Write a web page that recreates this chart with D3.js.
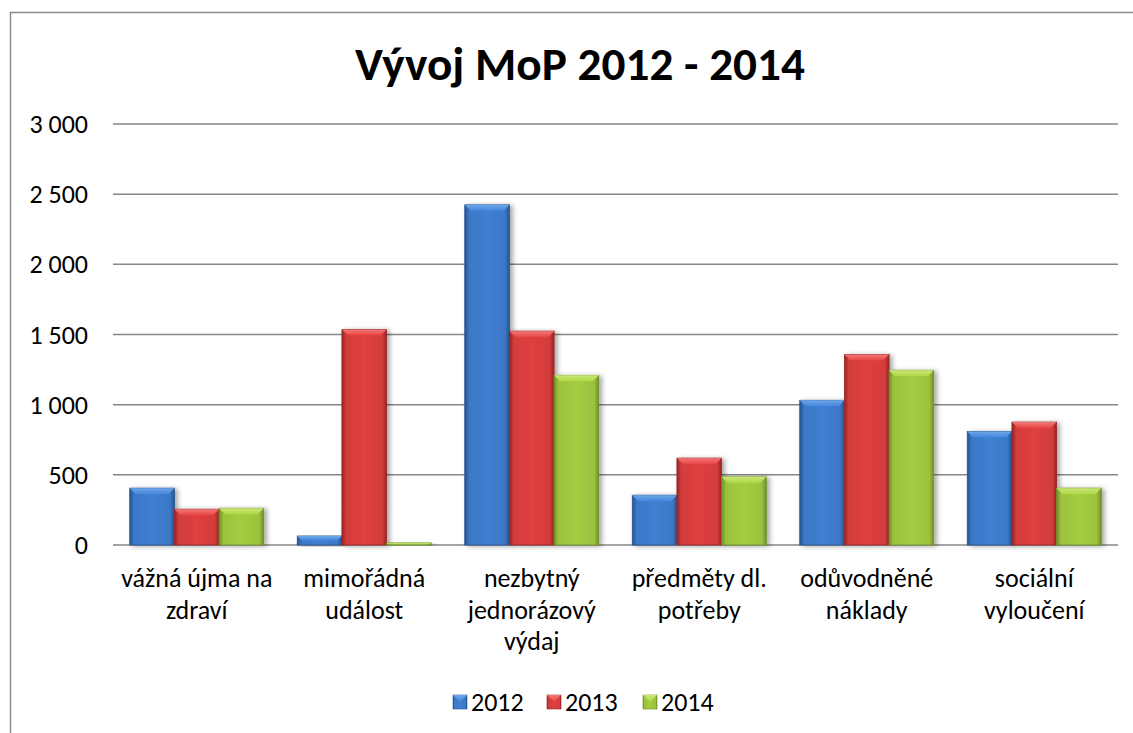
<!DOCTYPE html>
<html><head><meta charset="utf-8">
<script src="https://cdn.jsdelivr.net/npm/d3@7"></script>
<style>
html,body{margin:0;padding:0;background:#fff;}
svg{display:block;font-family:Carlito,Calibri,Lato,"Open Sans",sans-serif;}
</style></head>
<body>
<svg id="c" width="1133" height="733"></svg>
<script>
const title = "Vývoj MoP 2012 - 2014";
const categories = [
  ["vážná újma na", "zdraví"],
  ["mimořádná", "událost"],
  ["nezbytný", "jednorázový", "výdaj"],
  ["předměty dl.", "potřeby"],
  ["odůvodněné", "náklady"],
  ["sociální", "vyloučení"]
];
const seriesNames = ["2012", "2013", "2014"];
const values2012 = [405, 64, 2424, 355, 1031, 809];
const values2013 = [255, 1536, 1524, 619, 1357, 876];
const values2014 = [262, 15, 1209, 486, 1245, 405];
const yTicks = [0, 500, 1000, 1500, 2000, 2500, 3000];
const colors = [
  {base:"#3c78c6", light:"#6fa6e8", dark:"#25548f"},
  {base:"#d33c3c", light:"#ef7a78", dark:"#982424"},
  {base:"#9cc23e", light:"#cbe67a", dark:"#6f8f27"}
];

const series = [values2012, values2013, values2014];
const svg = d3.select("#c");
const plot = {left:113, right:1118, top:124, bottom:545};
const FS = 26;

// frame
svg.append("rect").attr("x",10.5).attr("y",12.5).attr("width",1200).attr("height",800)
  .attr("fill","#fff").attr("stroke","#8c8c8c").attr("stroke-width",1.5);

const defs = svg.append("defs");
colors.forEach((c,i)=>{
  const g = defs.append("linearGradient").attr("id","g"+i).attr("x1","0").attr("x2","1").attr("y1","0").attr("y2","0");
  g.append("stop").attr("offset","0").attr("stop-color",c.dark);
  g.append("stop").attr("offset","0.1").attr("stop-color",c.base);
  g.append("stop").attr("offset","0.5").attr("stop-color",d3.color(c.base).brighter(0.15));
  g.append("stop").attr("offset","0.9").attr("stop-color",c.base);
  g.append("stop").attr("offset","1").attr("stop-color",c.dark);
  const t = defs.append("linearGradient").attr("id","t"+i).attr("x1","0").attr("x2","0").attr("y1","0").attr("y2","1");
  t.append("stop").attr("offset","0").attr("stop-color",c.light);
  t.append("stop").attr("offset","1").attr("stop-color",d3.color(c.base).brighter(0.3));
});
const f = defs.append("filter").attr("id","sh").attr("x","-20%").attr("y","-20%").attr("width","150%").attr("height","140%");
f.append("feGaussianBlur").attr("in","SourceAlpha").attr("stdDeviation",2.5);
f.append("feOffset").attr("dx",3).attr("dy",1).attr("result","b");
f.append("feComponentTransfer").append("feFuncA").attr("type","linear").attr("slope",0.35);
const fm = f.append("feMerge"); fm.append("feMergeNode"); fm.append("feMergeNode").attr("in","SourceGraphic");

const x0 = d3.scaleBand().domain(d3.range(categories.length)).range([plot.left, plot.right]).paddingInner(0.2).paddingOuter(0.1);
const x1 = d3.scaleBand().domain(d3.range(seriesNames.length)).range([0, x0.bandwidth()]);
const y = d3.scaleLinear().domain([0,3000]).range([plot.bottom, plot.top]);

// gridlines
svg.append("g").selectAll("line").data(yTicks).join("line")
  .attr("x1",plot.left).attr("x2",plot.right)
  .attr("y1",d=>y(d)).attr("y2",d=>y(d))
  .attr("stroke","#868686").attr("stroke-width",1.5);

// y labels
const fmt = v => d3.format(",")(v).replace(/,/g," ");
svg.append("g").selectAll("text").data(yTicks).join("text")
  .attr("x",88).attr("y",d=>y(d)).attr("dy","0.35em")
  .attr("text-anchor","end").attr("font-size",FS).attr("fill","#000")
  .text(fmt);

// bars
const bars = svg.append("g");
categories.forEach((cat,ci)=>{
  series.forEach((vals,si)=>{
    const v = vals[ci];
    const bx = x0(ci)+x1(si), bw = x1.bandwidth();
    const by = y(v), bh = y(0)-y(v);
    const g = bars.append("g").attr("filter","url(#sh)");
    g.append("rect").attr("x",bx).attr("y",by).attr("width",bw).attr("height",bh)
      .attr("fill","url(#g"+si+")").attr("stroke",colors[si].dark).attr("stroke-width",0.8);
    const bev = Math.min(6, bh/2, bw/2);
    g.append("polygon")
      .attr("points",[[bx,by],[bx+bw,by],[bx+bw-bev,by+bev],[bx+bev,by+bev]].map(p=>p.join(",")).join(" "))
      .attr("fill","url(#t"+si+")");
  });
});

// category labels
const cl = svg.append("g");
categories.forEach((lines,ci)=>{
  const cx = x0(ci)+x0.bandwidth()/2;
  const t = cl.append("text").attr("x",cx).attr("y",587).attr("text-anchor","middle").attr("font-size",FS).attr("fill","#000");
  lines.forEach((ln,i)=>t.append("tspan").attr("x",cx).attr("y",587+i*31.5).text(ln));
});

// title
const tt = svg.append("text").attr("x",580).attr("y",80).attr("text-anchor","middle")
  .attr("font-weight","bold").attr("font-size",40).attr("fill","#000").text(title);
const tw = tt.node().getComputedTextLength();
tt.attr("font-size", 40*450/tw);

// legend
const legX = [453, 547, 643];
const lg = svg.append("g");
seriesNames.forEach((n,i)=>{
  const sq = lg.append("g");
  sq.append("rect").attr("x",legX[i]).attr("y",695).attr("width",14).attr("height",14)
    .attr("fill","url(#g"+i+")").attr("stroke",colors[i].dark).attr("stroke-width",0.6);
  sq.append("polygon").attr("points",`${legX[i]},695 ${legX[i]+14},695 ${legX[i]+7},702`).attr("fill","url(#t"+i+")");
  lg.append("text").attr("x",legX[i]+18).attr("y",702).attr("dy","0.35em").attr("font-size",FS).attr("fill","#000").text(n);
});
</script>
</body></html>
